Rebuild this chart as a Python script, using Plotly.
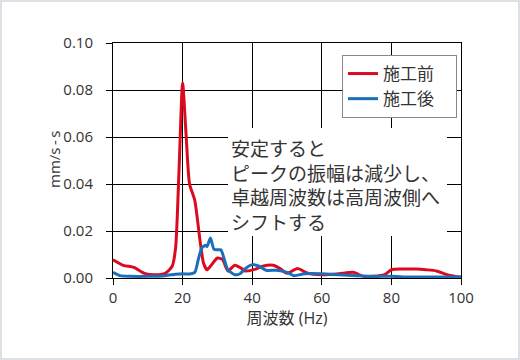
import plotly.graph_objects as go

# 施工前 (before)
before_hz = [0, 3, 6, 9, 12, 15, 17, 18, 19, 20, 21, 22, 23.5, 25, 26, 27, 28, 30, 31.5, 33, 35, 37, 38,
             41, 43, 46, 48, 50, 53, 56, 60, 65, 69, 72, 75, 78, 80, 83, 87, 90, 93, 96, 100]
before_val = [0.0078, 0.0054, 0.0045, 0.0020, 0.0014, 0.0020, 0.0050, 0.0130, 0.0470, 0.0830, 0.0610,
              0.0400, 0.0330, 0.0160, 0.0064, 0.0035, 0.0050, 0.0085, 0.0078, 0.0030, 0.0054, 0.0040,
              0.0030, 0.0038, 0.0050, 0.0054, 0.0040, 0.0020, 0.0040, 0.0020, 0.0014, 0.0018, 0.0024,
              0.0007, 0.0007, 0.0014, 0.0035, 0.0038, 0.0038, 0.0035, 0.0030, 0.0014, 0.0003]

# 施工後 (after)
after_hz = [0, 2, 5, 10, 15, 18, 20, 22, 23.5, 24.5, 25.5, 26.5, 27, 28, 29, 30, 31, 32, 33, 35, 36.5,
            38, 40, 42, 44, 47, 50, 52, 55, 60, 65, 70, 75, 80, 85, 90, 95, 100]
after_val = [0.0024, 0.0010, 0.0007, 0.0007, 0.0010, 0.0016, 0.0018, 0.0017, 0.0024, 0.0078, 0.0127,
             0.0139, 0.0134, 0.0170, 0.0123, 0.0120, 0.0120, 0.0078, 0.0035, 0.0014, 0.0018, 0.0040,
             0.0057, 0.0050, 0.0033, 0.0033, 0.0024, 0.0010, 0.0018, 0.0018, 0.0014, 0.0010, 0.0007,
             0.0007, 0.0004, 0.0004, 0.0004, 0.0004]

x_ticks = [0, 20, 40, 60, 80, 100]
y_ticks = [0.00, 0.02, 0.04, 0.06, 0.08, 0.10]

note_lines = ["安定すると", "ピークの振幅は減少し、", "卓越周波数は高周波側へ", "シフトする"]

FONT = "Open Sans, Noto Sans CJK JP"
CJK = "Noto Sans CJK JP"

# plot area in pixels: x 113..461, y 43..278
L, R, T, B = 113, 59, 43, 82
PW, PH = 520 - L - R, 360 - T - B


def px_x(p):
    return (p - L) / PW


def px_y(p):
    return (360 - B - p) / PH


fig = go.Figure()
fig.add_trace(go.Scatter(x=before_hz, y=before_val, mode="lines", name="施工前\u2003",
                         line=dict(color="#dc0a1e", width=3, shape="spline", smoothing=0.6)))
fig.add_trace(go.Scatter(x=after_hz, y=after_val, mode="lines", name="施工後\u2003",
                         line=dict(color="#1b6fb8", width=3, shape="spline", smoothing=0.6)))

# white box behind the note (covers grid lines)
fig.add_shape(type="rect", xref="paper", yref="paper",
              x0=px_x(228), x1=px_x(447), y0=px_y(236), y1=px_y(128),
              fillcolor="white", line=dict(width=0), layer="above")

fig.add_annotation(
    x=px_x(229), y=px_y(184.5), xref="paper", yref="paper",
    xanchor="left", yanchor="middle", text="<br>".join(note_lines),
    showarrow=False, align="left",
    font=dict(family=CJK, size=19, color="#333333"),
)

# y-axis title placed as annotation to match reference position
fig.add_annotation(
    x=px_x(54), y=px_y(160), xref="paper", yref="paper",
    xanchor="center", yanchor="middle", text="mm/s\u2009-\u2009s", textangle=-90,
    showarrow=False, font=dict(family=FONT, size=15, color="#333333"),
)

# outer light frame
fig.add_shape(type="rect", xref="paper", yref="paper",
              x0=px_x(1), x1=px_x(519), y0=px_y(359), y1=px_y(1),
              line=dict(color="#dde1e6", width=2), layer="below")

fig.update_layout(
    width=520, height=360,
    margin=dict(l=L, r=R, t=T, b=B),
    paper_bgcolor="white", plot_bgcolor="white",
    font=dict(family=FONT, size=15, color="#333333"),
    showlegend=True,
    legend=dict(x=px_x(342), y=px_y(55), xanchor="left", yanchor="top",
                bgcolor="white", bordercolor="#888888", borderwidth=1,
                font=dict(family=CJK, size=17, color="#333333")),
    xaxis=dict(range=[0, 100], tickvals=x_ticks, ticktext=[str(v) for v in x_ticks],
               showgrid=True, gridcolor="black", gridwidth=1, zeroline=False,
               showline=True, linecolor="black", linewidth=1, mirror=True,
               ticks="outside", ticklen=6, tickcolor="black",
               title=dict(text="周波数 (Hz)", font=dict(size=16), standoff=4)),
    yaxis=dict(range=[0, 0.10], tickvals=y_ticks, ticktext=[f"{v:.2f}" for v in y_ticks],
               showgrid=True, gridcolor="black", gridwidth=1, zeroline=False,
               showline=True, linecolor="black", linewidth=1, mirror=True,
               ticks="outside", ticklen=6, tickcolor="black", ticklabelstandoff=10),
)

fig.write_html("out.html", config={"displayModeBar": False})

# remove default body margin so the 520x360 figure fills the window exactly
with open("out.html", encoding="utf-8") as f:
    html = f.read()
html = html.replace("<head>", "<head><style>html,body{margin:0;padding:0;overflow:hidden;}</style>", 1)
with open("out.html", "w", encoding="utf-8") as f:
    f.write(html)
